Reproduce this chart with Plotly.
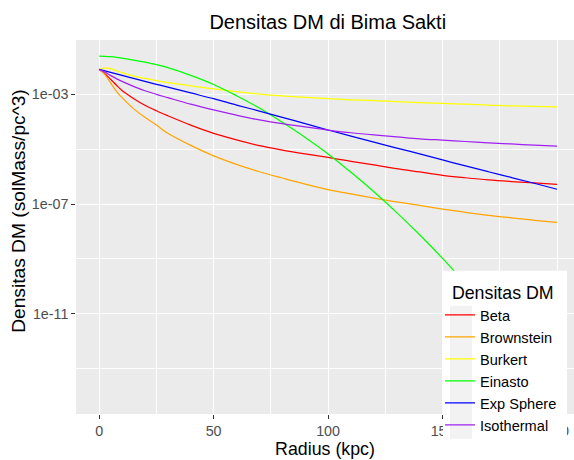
import plotly.graph_objects as go

# ---------------- data ----------------
radius = [0, 2.5, 5, 7.5, 10, 15, 20, 25, 30, 40, 50, 60, 70, 80, 90, 100,
          110, 120, 130, 140, 150, 160, 170, 180, 190, 200]

beta = [8.13e-03, 5.62e-03, 3.55e-03, 2.19e-03, 1.38e-03, 7.08e-04, 3.98e-04,
        2.51e-04, 1.66e-04, 7.59e-05, 3.80e-05, 2.19e-05, 1.35e-05, 9.33e-06,
        6.76e-06, 5.01e-06, 3.63e-06, 2.69e-06, 1.95e-06, 1.48e-06, 1.12e-06,
        9.12e-07, 7.59e-07, 6.61e-07, 5.89e-07, 5.25e-07]

brownstein = [8.13e-03, 5.25e-03, 2.63e-03, 1.32e-03, 7.59e-04, 3.02e-04, 1.45e-04,
              7.59e-05, 3.80e-05, 1.38e-05, 5.75e-06, 2.82e-06, 1.51e-06, 8.91e-07,
              5.37e-07, 3.39e-07, 2.34e-07, 1.66e-07, 1.20e-07, 8.91e-08, 6.61e-08,
              5.01e-08, 3.89e-08, 3.16e-08, 2.57e-08, 2.14e-08]

burkert = [8.13e-03, 9.10e-03, 8.71e-03, 7.24e-03, 6.17e-03, 4.68e-03, 3.80e-03,
           3.16e-03, 2.69e-03, 2.04e-03, 1.58e-03, 1.26e-03, 1.02e-03, 8.71e-04,
           7.76e-04, 6.92e-04, 6.31e-04, 5.89e-04, 5.37e-04, 5.01e-04, 4.68e-04,
           4.37e-04, 4.07e-04, 3.80e-04, 3.63e-04, 3.47e-04]

einasto = [2.455e-02, 2.427e-02, 2.344e-02, 2.239e-02, 2.089e-02, 1.778e-02,
           1.479e-02, 1.202e-02, 9.33e-03, 4.90e-03, 2.29e-03, 8.91e-04, 3.16e-04,
           9.55e-05, 2.69e-05, 6.76e-06, 1.445e-06, 2.82e-07, 4.90e-08, 7.59e-09,
           1.047e-09, 1.26e-10, 1.35e-11, 1.29e-12, 1.12e-13, 9.33e-15]

exp_sphere = [8.13e-03, 7.16e-03, 6.31e-03, 5.56e-03, 4.90e-03, 3.80e-03, 2.95e-03,
              2.32e-03, 1.82e-03, 1.12e-03, 6.92e-04, 4.07e-04, 2.45e-04, 1.45e-04,
              8.51e-05, 5.01e-05, 3.02e-05, 1.82e-05, 1.10e-05, 6.76e-06, 4.07e-06,
              2.45e-06, 1.51e-06, 9.33e-07, 5.75e-07, 3.47e-07]

isothermal = [8.13e-03, 6.46e-03, 4.90e-03, 3.72e-03, 2.95e-03, 1.95e-03, 1.35e-03,
              1.00e-03, 7.59e-04, 4.37e-04, 2.69e-04, 1.74e-04, 1.17e-04, 8.51e-05,
              6.46e-05, 5.01e-05, 3.98e-05, 3.31e-05, 2.82e-05, 2.40e-05, 2.14e-05,
              1.91e-05, 1.70e-05, 1.55e-05, 1.41e-05, 1.29e-05]

series_names = ["Beta", "Brownstein", "Burkert", "Einasto", "Exp Sphere", "Isothermal"]
series_values = [beta, brownstein, burkert, einasto, exp_sphere, isothermal]
series_colors = ["#FF0000", "#FFA500", "#FFFF00", "#00FF00", "#0000FF", "#A020F0"]

x_ticks = [0, 50, 100, 150, 200]
y_ticks = [1e-3, 1e-7, 1e-11]
y_tick_text = ["1e-03", "1e-07", "1e-11"]
y_minor = [1e-5, 1e-9, 1e-13]

FONT = "Liberation Sans, Arial, sans-serif"

fig = go.Figure()
for name, vals, col in zip(series_names, series_values, series_colors):
    fig.add_trace(go.Scatter(x=radius, y=vals, mode="lines", name=name,
                             line=dict(color=col, width=1.25, shape="spline", smoothing=1.0)))


def px2paper_x(px):
    return (px - 76) / 498.0


def px2paper_y(py):
    return (414.3 - py) / 374.3


# legend backdrop (white box + grey key column), drawn above the data
fig.add_shape(type="rect", xref="paper", yref="paper", layer="above",
              x0=px2paper_x(443), x1=px2paper_x(567), y0=px2paper_y(439), y1=px2paper_y(271),
              fillcolor="white", line=dict(width=0))
fig.add_shape(type="rect", xref="paper", yref="paper", layer="above",
              x0=px2paper_x(450), x1=px2paper_x(472), y0=px2paper_y(439), y1=px2paper_y(306),
              fillcolor="#F2F2F2", line=dict(width=0))

# y-axis title
fig.add_annotation(text="Densitas DM (solMass/pc^3)", textangle=-90,
                   xref="paper", yref="paper", x=px2paper_x(19), y=px2paper_y(211),
                   xanchor="center", yanchor="middle", showarrow=False,
                   font=dict(size=19.2, color="black"))

fig.update_layout(
    width=574, height=460,
    margin=dict(l=76, r=0, t=40, b=46),
    paper_bgcolor="white",
    plot_bgcolor="#EBEBEB",
    font=dict(family=FONT, color="black"),
    title=dict(text="Densitas DM di Bima Sakti", x=0.571, xref="container", xanchor="center",
               y=1 - 22 / 460, yref="container", yanchor="middle",
               font=dict(size=20, color="black")),
    legend=dict(x=px2paper_x(440), xanchor="left", y=px2paper_y(276), yanchor="top",
                bgcolor="rgba(0,0,0,0)", borderwidth=0,
                font=dict(size=14.6, color="black"),
                title=dict(text="\u00a0\u00a0Densitas DM", font=dict(size=17.8, color="black")),
                tracegroupgap=0),
    xaxis=dict(range=[-10.1, 207.4], tickvals=x_ticks, ticks="outside", ticklen=3.7,
               tickcolor="#333333", tickwidth=1,
               tickfont=dict(size=14.3, color="#4D4D4D"),
               showgrid=True, gridcolor="white", gridwidth=1.1, zeroline=False,
               minor=dict(dtick=25, tick0=0, showgrid=True, gridcolor="white", gridwidth=0.55),
               title=dict(text="Radius (kpc)", font=dict(size=17.8, color="black"), standoff=4),
               showline=False),
    yaxis=dict(type="log", range=[-14.65, -1.02], tickvals=y_ticks, ticktext=y_tick_text,
               ticks="outside", ticklen=3.7, tickcolor="#333333", tickwidth=1,
               tickfont=dict(size=14.3, color="#4D4D4D"),
               showgrid=True, gridcolor="white", gridwidth=1.1, zeroline=False,
               minor=dict(tickvals=y_minor, showgrid=True, gridcolor="white", gridwidth=0.55),
               showline=False),
)

fig.write_html("out.html")
